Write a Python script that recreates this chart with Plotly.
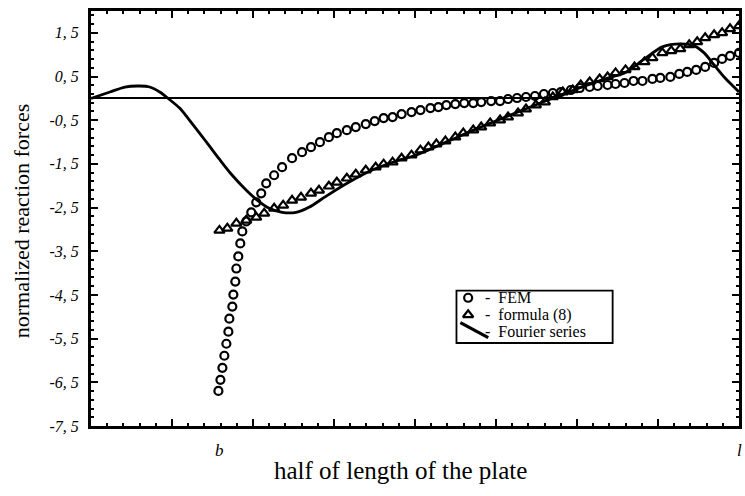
import plotly.graph_objects as go

# ---- data (x normalised to half-length l = 1) ----
b_pos = 0.198

fem_x = [0.1966, 0.1997, 0.2028, 0.2058, 0.2089, 0.2120, 0.2135, 0.2181, 0.2197, 0.2227,
         0.2243, 0.2273, 0.2304, 0.2335, 0.2396, 0.2473, 0.2550, 0.2627, 0.2704, 0.2826,
         0.2949, 0.3103, 0.3257, 0.3395, 0.3533, 0.3671, 0.3794, 0.3948, 0.4086, 0.4240,
         0.4378, 0.4516, 0.4654, 0.4793, 0.4946, 0.5084, 0.5238, 0.5361, 0.5484, 0.5622,
         0.5760, 0.5899, 0.6022, 0.6175, 0.6313, 0.6436, 0.6575, 0.6713, 0.6851, 0.6989,
         0.7127, 0.7250, 0.7404, 0.7542, 0.7696, 0.7819, 0.7972, 0.8095, 0.8233, 0.8372,
         0.8510, 0.8664, 0.8786, 0.8940, 0.9078, 0.9201, 0.9339, 0.9478, 0.9616, 0.9739,
         0.9862, 1.0]
fem_y = [-6.696, -6.443, -6.168, -5.892, -5.617, -5.341, -5.043, -4.767, -4.492, -4.193,
         -3.895, -3.619, -3.321, -3.045, -2.816, -2.609, -2.380, -2.173, -1.944, -1.760,
         -1.576, -1.370, -1.232, -1.117, -1.002, -0.888, -0.796, -0.727, -0.658, -0.589,
         -0.520, -0.451, -0.428, -0.360, -0.314, -0.268, -0.222, -0.199, -0.153, -0.130,
         -0.107, -0.107, -0.084, -0.061, -0.061, -0.015, 0.008, 0.031, 0.054, 0.100,
         0.123, 0.145, 0.191, 0.237, 0.260, 0.283, 0.306, 0.329, 0.352, 0.398,
         0.398, 0.444, 0.467, 0.490, 0.559, 0.605, 0.651, 0.719, 0.811, 0.903,
         0.972, 1.041]

formula_x = [0.1982, 0.2104, 0.2243, 0.2396, 0.2550, 0.2673, 0.2826, 0.2965, 0.3103, 0.3241,
             0.3395, 0.3518, 0.3671, 0.3794, 0.3948, 0.4086, 0.4240, 0.4393, 0.4516, 0.4654,
             0.4793, 0.4946, 0.5084, 0.5207, 0.5330, 0.5469, 0.5622, 0.5745, 0.5899, 0.6022,
             0.6160, 0.6313, 0.6436, 0.6590, 0.6713, 0.6866, 0.7005, 0.7127, 0.7281, 0.7435,
             0.7558, 0.7696, 0.7849, 0.7972, 0.8095, 0.8249, 0.8387, 0.8541, 0.8664, 0.8817,
             0.8955, 0.9094, 0.9232, 0.9355, 0.9478, 0.9616, 0.9739, 0.9862, 1.0]
formula_y = [-3.023, -2.977, -2.862, -2.793, -2.724, -2.632, -2.517, -2.449, -2.334, -2.265,
             -2.173, -2.104, -2.012, -1.921, -1.829, -1.737, -1.645, -1.576, -1.507, -1.461,
             -1.370, -1.301, -1.186, -1.117, -1.048, -0.979, -0.888, -0.796, -0.727, -0.658,
             -0.566, -0.497, -0.428, -0.337, -0.245, -0.153, -0.084, 0.031, 0.145, 0.191,
             0.306, 0.375, 0.444, 0.490, 0.582, 0.651, 0.719, 0.834, 0.926, 1.041,
             1.087, 1.133, 1.225, 1.293, 1.385, 1.454, 1.500, 1.592, 1.661]

fourier_x = [0.0, 0.0292, 0.0522, 0.0753, 0.0906, 0.1060, 0.1183, 0.1367, 0.1567, 0.1782,
             0.1982, 0.2166, 0.2366, 0.2550, 0.2750, 0.2949, 0.3164, 0.3364, 0.3625,
             0.3978, 0.4332, 0.4747, 0.5008, 0.5515, 0.5975, 0.6436, 0.6897, 0.7204, 0.7665,
             0.7972, 0.8233, 0.8541, 0.8817, 0.9094, 0.9309, 0.9462, 0.9616, 0.9770, 0.9923, 1.0]
fourier_y = [0.0, 0.145, 0.260, 0.283, 0.260, 0.145, 0.008, -0.222, -0.589, -1.002,
             -1.393, -1.737, -2.058, -2.311, -2.517, -2.609, -2.609, -2.494, -2.242,
             -1.921, -1.645, -1.416, -1.301, -0.979, -0.681, -0.405, -0.130, 0.054, 0.306,
             0.467, 0.582, 0.903, 1.179, 1.247, 1.202, 1.041, 0.765, 0.490, 0.260, 0.145]

y_tick_vals = [1.5, 0.5, -0.5, -1.5, -2.5, -3.5, -4.5, -5.5, -6.5, -7.5]
y_tick_text = ["1, 5", "0, 5", "-0, 5", "-1, 5", "-2, 5", "-3, 5", "-4, 5", "-5, 5", "-6, 5", "-7, 5"]
x_label_vals = [b_pos, 1.0]
x_label_text = ["b", "l"]

FONT = "Liberation Serif"

fig = go.Figure()
fig.add_trace(go.Scatter(x=fourier_x, y=fourier_y, mode="lines",
                         line=dict(color="black", width=2.8, shape="spline", smoothing=0.8),
                         showlegend=False, hoverinfo="skip"))
fig.add_trace(go.Scatter(x=fem_x, y=fem_y, mode="markers",
                         marker=dict(symbol="circle-open", size=8, color="black",
                                     line=dict(width=2.2, color="black")),
                         showlegend=False))
fig.add_trace(go.Scatter(x=formula_x, y=formula_y, mode="markers",
                         marker=dict(symbol="triangle-up-open", size=9, color="black",
                                     line=dict(width=2.2, color="black")),
                         showlegend=False))

# legend glyph traces in a hidden [0,1] frame matching the plot area
fig.add_trace(go.Scatter(x=[0.582], y=[0.309], xaxis="x3", yaxis="y3", mode="markers",
                         marker=dict(symbol="circle-open", size=8, color="black",
                                     line=dict(width=2.2, color="black")),
                         showlegend=False, hoverinfo="skip"))
fig.add_trace(go.Scatter(x=[0.582], y=[0.268], xaxis="x3", yaxis="y3", mode="markers",
                         marker=dict(symbol="triangle-up-open", size=9, color="black",
                                     line=dict(width=2.2, color="black")),
                         showlegend=False, hoverinfo="skip"))

axis_common = dict(showline=True, linecolor="black", linewidth=3, mirror="allticks",
                   ticks="inside", tickcolor="black", tickwidth=2, ticklen=7,
                   showgrid=False, zeroline=False)

fig.update_layout(
    width=745, height=496,
    margin=dict(l=91, r=3, t=11, b=70),
    paper_bgcolor="white", plot_bgcolor="white",
    font=dict(family=FONT, color="black"),
    xaxis=dict(range=[0, 1], tick0=0, dtick=0.125, showticklabels=False,
               minor=dict(ticks="inside", dtick=0.025, ticklen=3, tickwidth=1.5, tickcolor="black"),
               **axis_common),
    yaxis=dict(range=[-7.5, 2.0], tickvals=y_tick_vals,
               ticktext=["<i>%s</i>" % t for t in y_tick_text],
               tickfont=dict(size=16, family=FONT), ticklabelstandoff=6,
               minor=dict(ticks="inside", tick0=0.5, dtick=0.2, ticklen=3, tickwidth=1.5, tickcolor="black"),
               **{**axis_common, "zeroline": True}, zerolinecolor="black", zerolinewidth=2),
    xaxis3=dict(overlaying="x", range=[0, 1], visible=False),
    yaxis3=dict(overlaying="y", range=[0, 1], visible=False),
    showlegend=False,
)

# x tick labels b and l
for xv, xt in zip(x_label_vals, x_label_text):
    fig.add_annotation(text="<i>%s</i>" % xt, xref="x", yref="paper", x=xv, y=-0.058,
                       xanchor="center", yanchor="middle", showarrow=False,
                       font=dict(size=17, family=FONT))

# axis titles
fig.add_annotation(text="half of length of the plate", xref="paper", yref="paper",
                   x=0.477, y=-0.108, xanchor="center", yanchor="middle", showarrow=False,
                   font=dict(size=25, family=FONT))
fig.add_annotation(text="normalized reaction forces", xref="paper", yref="paper",
                   x=-0.106, y=0.494, xanchor="center", yanchor="middle", textangle=-90,
                   showarrow=False, font=dict(size=22, family=FONT))

# custom legend box
fig.add_shape(type="rect", xref="paper", yref="paper", x0=0.564, x1=0.805, y0=0.200, y1=0.326,
              line=dict(color="black", width=1.8), fillcolor="white", layer="below")
fig.add_shape(type="line", xref="paper", yref="paper", x0=0.570, y0=0.249, x1=0.613, y1=0.213,
              line=dict(color="black", width=3.2), layer="above")
legend_rows = [("-  FEM", 0.309), ("-  formula (8)", 0.268), ("-  Fourier series", 0.227)]
for txt, yy in legend_rows:
    fig.add_annotation(text=txt, xref="paper", yref="paper", x=0.606, y=yy,
                       xanchor="left", yanchor="middle", showarrow=False, borderpad=0,
                       font=dict(size=16, family=FONT))

fig.write_html("out.html")
